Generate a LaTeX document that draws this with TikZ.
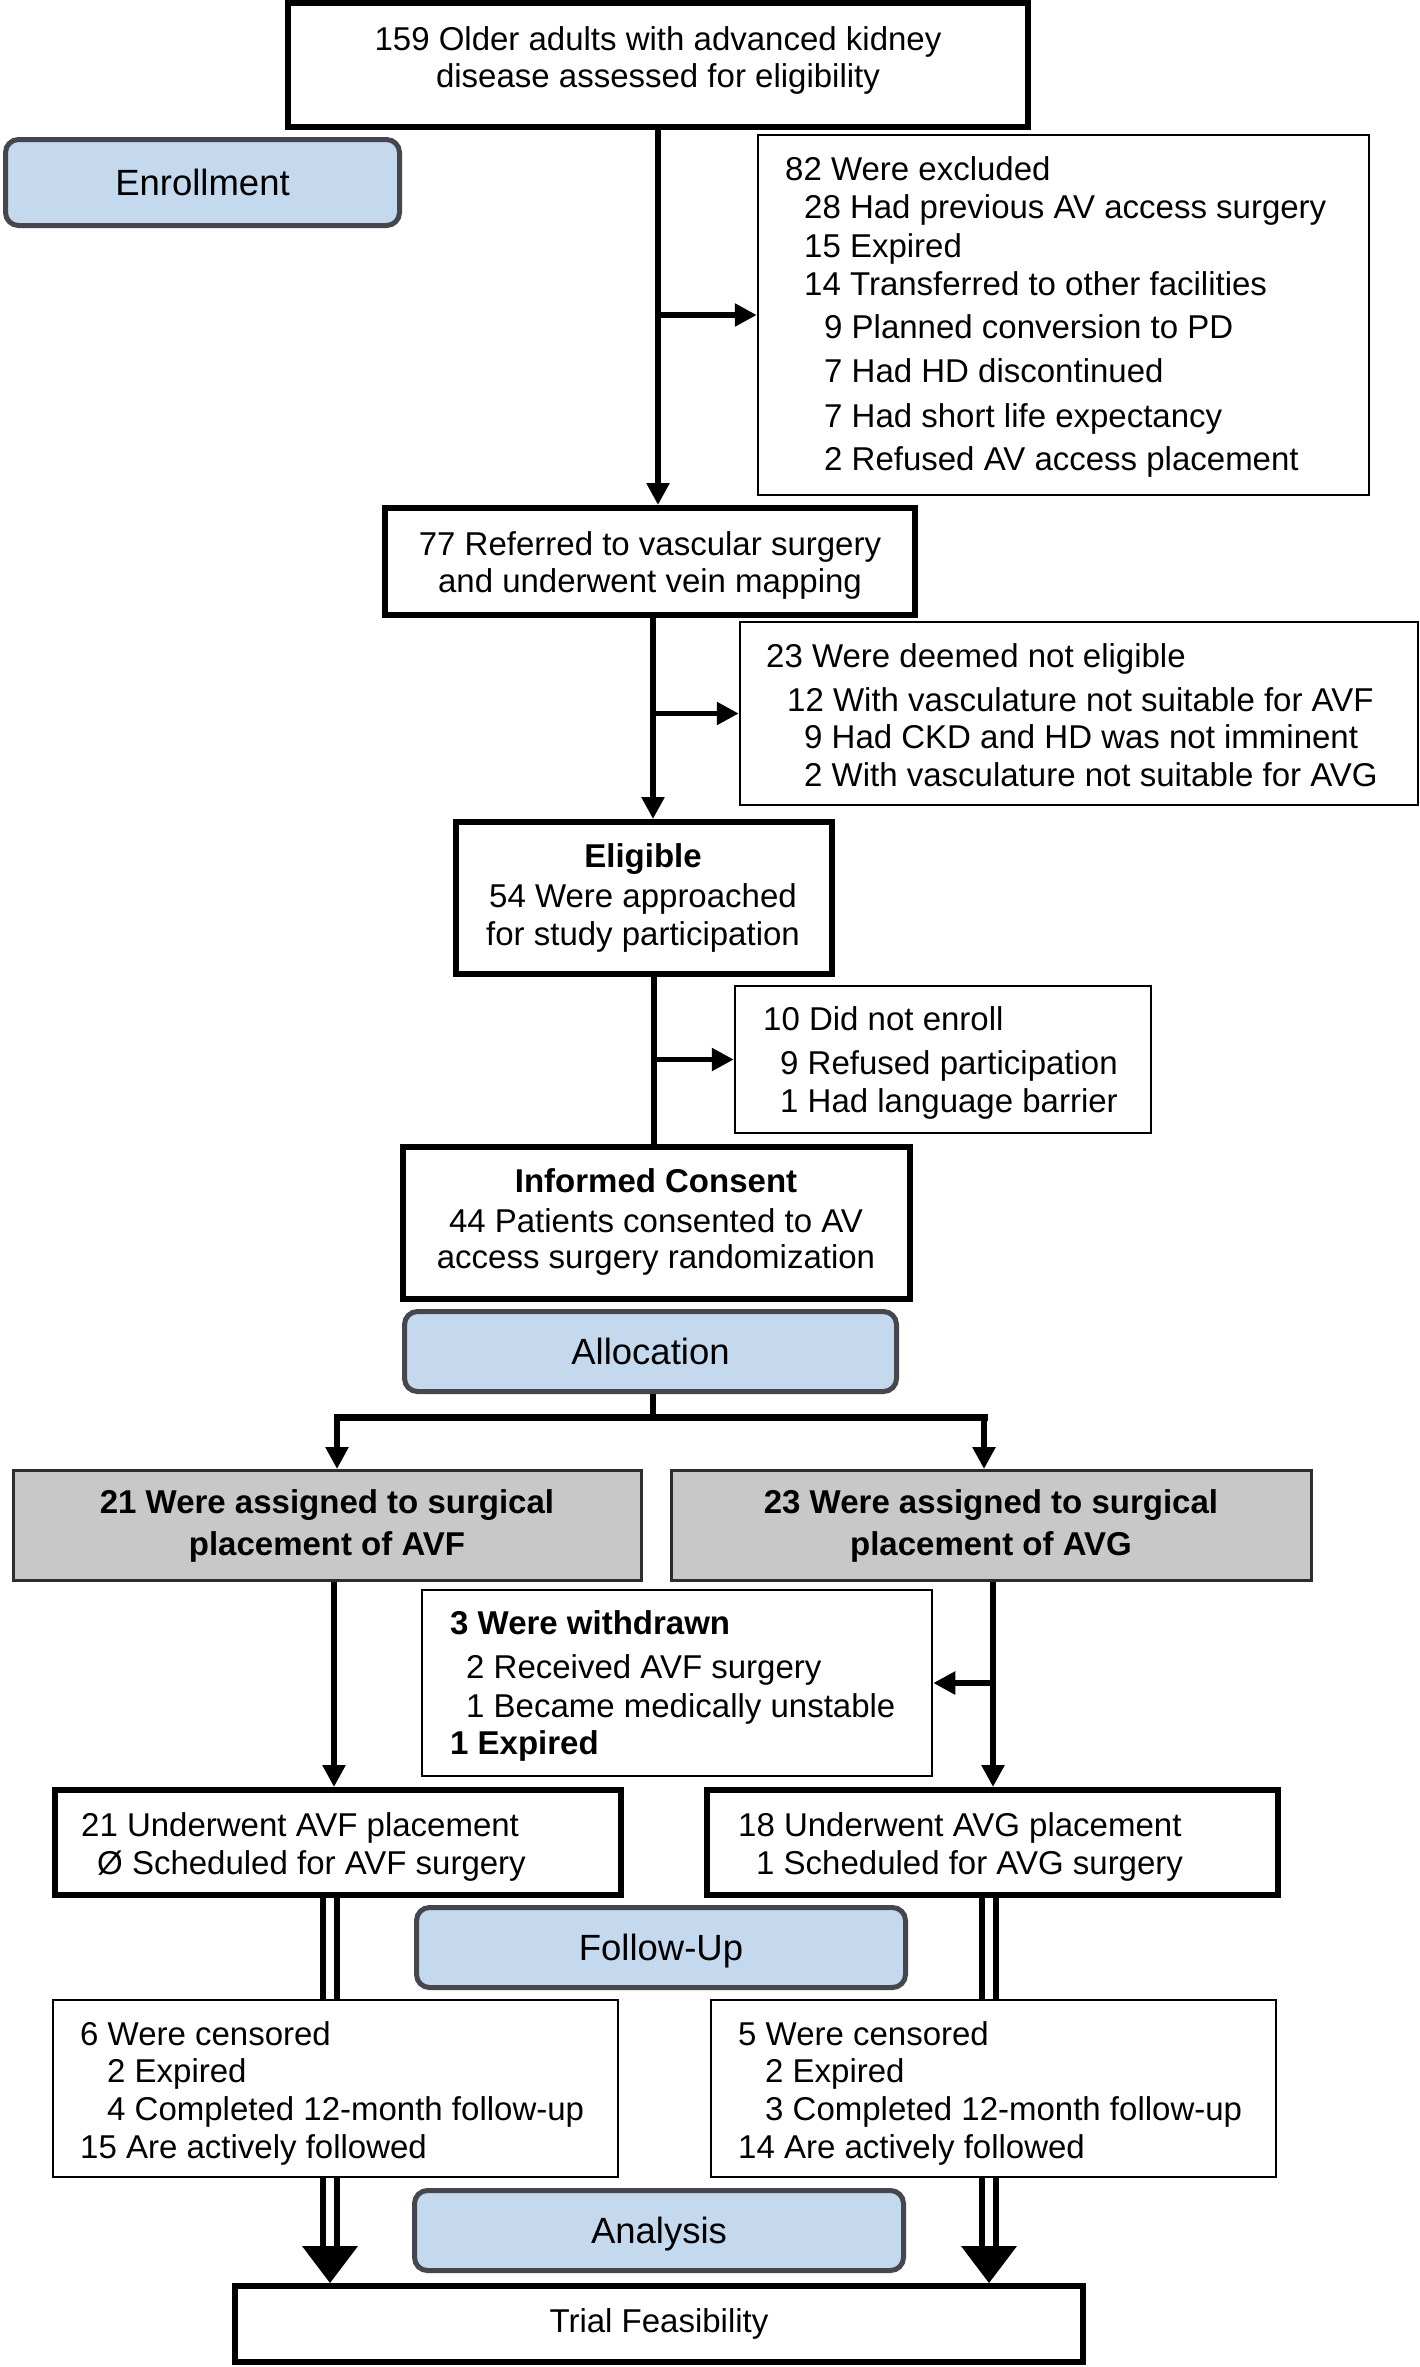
\documentclass[tikz,border=0pt]{standalone}
\usepackage{fontspec}
\setmainfont{Liberation Sans}
\usetikzlibrary{arrows.meta}
\definecolor{stageblue}{RGB}{196,217,237}
\definecolor{stageedge}{RGB}{70,70,78}
\definecolor{assigngray}{RGB}{200,200,200}
\definecolor{assignedge}{RGB}{45,45,45}
\newcommand{\fsA}{\fontsize{33pt}{40pt}\selectfont}
\newcommand{\fsB}{\fontsize{36.5pt}{44pt}\selectfont}
\begin{document}
\begin{tikzpicture}[x=1pt,y=-1pt,
  thickbox/.style={draw=black, line width=6pt, fill=white, inner sep=0pt},
  thinbox/.style={draw=black, line width=2.5pt, fill=white, inner sep=0pt},
  stagebox/.style={draw=stageedge, line width=5pt, fill=stageblue, rounded corners=13pt,
     inner sep=0pt, font=\fsB, text height=26pt, text depth=0pt},
  assignbox/.style={draw=assignedge, line width=3pt, fill=assigngray, inner sep=0pt},
  txt/.style={inner sep=0pt, font=\fsA},
  conn/.style={line width=5.5pt, draw=black},
  arrowtip/.style={-{Triangle[width=22pt,length=22pt]}},
  dbl/.style={line width=6pt, draw=black, double=white, double distance=8pt},
]
\useasboundingbox (0,0) rectangle (1420,2367);
\fill[white] (0,0) rectangle (1420,2367);

% ---------- boxes ----------
\node[thickbox, minimum width=740pt, minimum height=124pt] (top) at (658,65) {};
\node[stagebox, minimum width=394pt, minimum height=86pt] (enroll) at (202.5,182.5) {Enrollment};
\node[thinbox, minimum width=611pt, minimum height=360pt] (excl) at (1063.5,315) {};
\node[thickbox, minimum width=530pt, minimum height=107pt] (refer) at (650,561.5) {};
\node[thinbox, minimum width=678pt, minimum height=183pt] (notel) at (1079,713.5) {};
\node[thickbox, minimum width=376pt, minimum height=152pt] (elig) at (644,898) {};
\node[thinbox, minimum width=416pt, minimum height=147pt] (dne) at (943,1059.5) {};
\node[thickbox, minimum width=507pt, minimum height=152pt] (inf) at (656.5,1223) {};
\node[stagebox, minimum width=492pt, minimum height=80pt] (alloc) at (650.5,1351.5) {Allocation};
\node[assignbox, minimum width=628pt, minimum height=110pt] (avf) at (327.5,1525.5) {};
\node[assignbox, minimum width=640pt, minimum height=110pt] (avg) at (991.5,1525.5) {};
\node[thinbox, minimum width=510pt, minimum height=186pt] (wd) at (677,1683) {};
\node[thickbox, minimum width=566pt, minimum height=105pt] (uL) at (338,1842.5) {};
\node[thickbox, minimum width=571pt, minimum height=105pt] (uR) at (992.5,1842.5) {};
\node[stagebox, minimum width=489pt, minimum height=80pt] (fu) at (661,1947.5) {Follow-Up};
\node[thinbox, minimum width=565pt, minimum height=177pt] (cL) at (335.5,2088.5) {};
\node[thinbox, minimum width=565pt, minimum height=177pt] (cR) at (993.5,2088.5) {};
\node[stagebox, minimum width=489pt, minimum height=80pt] (an) at (659,2230.5) {Analysis};
\node[thickbox, minimum width=848pt, minimum height=76pt, font=\fsA,
      text height=23pt, text depth=7pt] (trial) at (659,2324) {Trial Feasibility};

% ---------- texts ----------
\node[txt, anchor=base] (t1) at (658,50) {159 Older adults with advanced kidney};
\node[txt, anchor=base] (t2) at (658,87) {disease assessed for eligibility};

\node[txt, anchor=base west] (ex1) at (785,180) {82 Were excluded};
\node[txt, anchor=base west] (ex2) at (804,218) {28 Had previous AV access surgery};
\node[txt, anchor=base west] (ex3) at (804,257) {15 Expired};
\node[txt, anchor=base west] (ex4) at (804,295) {14 Transferred to other facilities};
\node[txt, anchor=base west] (ex5) at (824,338) {9 Planned conversion to PD};
\node[txt, anchor=base west] (ex6) at (824,382) {7 Had HD discontinued};
\node[txt, anchor=base west] (ex7) at (824,427) {7 Had short life expectancy};
\node[txt, anchor=base west] (ex8) at (824,470) {2 Refused AV access placement};

\node[txt, anchor=base] (r1) at (650,555) {77 Referred to vascular surgery};
\node[txt, anchor=base] (r2) at (650,592) {and underwent vein mapping};

\node[txt, anchor=base west] (ne1) at (766,667) {23 Were deemed not eligible};
\node[txt, anchor=base west] (ne2) at (787,711) {12 With vasculature not suitable for AVF};
\node[txt, anchor=base west] (ne3) at (804,748) {9 Had CKD and HD was not imminent};
\node[txt, anchor=base west] (ne4) at (804,786) {2 With vasculature not suitable for AVG};

\node[txt, anchor=base, font=\fsA\bfseries] (e1) at (643,867) {Eligible};
\node[txt, anchor=base] (e2) at (643,907) {54 Were approached};
\node[txt, anchor=base] (e3) at (643,945) {for study participation};

\node[txt, anchor=base west] (d1) at (763,1030) {10 Did not enroll};
\node[txt, anchor=base west] (d2) at (780,1074) {9 Refused participation};
\node[txt, anchor=base west] (d3) at (780,1112) {1 Had language barrier};

\node[txt, anchor=base, font=\fsA\bfseries] (i1) at (656,1192) {Informed Consent};
\node[txt, anchor=base] (i2) at (656,1232) {44 Patients consented to AV};
\node[txt, anchor=base] (i3) at (656,1268) {access surgery randomization};

\node[txt, anchor=base, font=\fsA\bfseries] (af1) at (327,1513) {21 Were assigned to surgical};
\node[txt, anchor=base, font=\fsA\bfseries] (af2) at (327,1555) {placement of AVF};
\node[txt, anchor=base, font=\fsA\bfseries] (ag1) at (991,1513) {23 Were assigned to surgical};
\node[txt, anchor=base, font=\fsA\bfseries] (ag2) at (991,1555) {placement of AVG};

\node[txt, anchor=base west, font=\fsA\bfseries] (w1) at (450,1634) {3 Were withdrawn};
\node[txt, anchor=base west] (w2) at (466,1678) {2 Received AVF surgery};
\node[txt, anchor=base west] (w3) at (466,1717) {1 Became medically unstable};
\node[txt, anchor=base west, font=\fsA\bfseries] (w4) at (450,1754) {1 Expired};

\node[txt, anchor=base west] (ul1) at (81,1836) {21 Underwent AVF placement};
\node[txt, anchor=base west] (ul2) at (97,1874) {Ø Scheduled for AVF surgery};
\node[txt, anchor=base west] (ur1) at (738,1836) {18 Underwent AVG placement};
\node[txt, anchor=base west] (ur2) at (756,1874) {1 Scheduled for AVG surgery};

\node[txt, anchor=base west] (cl1) at (80,2045) {6 Were censored};
\node[txt, anchor=base west] (cl2) at (107,2082) {2 Expired};
\node[txt, anchor=base west] (cl3) at (107,2120) {4 Completed 12-month follow-up};
\node[txt, anchor=base west] (cl4) at (80,2158) {15 Are actively followed};
\node[txt, anchor=base west] (cr1) at (738,2045) {5 Were censored};
\node[txt, anchor=base west] (cr2) at (765,2082) {2 Expired};
\node[txt, anchor=base west] (cr3) at (765,2120) {3 Completed 12-month follow-up};
\node[txt, anchor=base west] (cr4) at (738,2158) {14 Are actively followed};

% ---------- connectors ----------
\coordinate (v2) at (653,0);
\coordinate (v3) at (654,0);
\coordinate (tM) at (653,1417);
\coordinate (tL) at (337,1417);
\coordinate (tR) at (984,1417);
\coordinate (vL) at (334,0);
\coordinate (vR) at (993,0);
\coordinate (xL) at (330,0);
\coordinate (xR) at (989,0);

\draw[conn, arrowtip] (top.south) -- (top.south |- refer.north);
\draw[conn, arrowtip] (top.south |- excl.west) -- (excl.west);

\draw[conn, arrowtip] (refer.south -| v2) -- (elig.north -| v2);
\draw[conn, arrowtip] (v2 |- notel.west) -- (notel.west);

\draw[conn] (elig.south -| v3) -- (inf.north -| v3);
\draw[conn, arrowtip] (v3 |- dne.west) -- (dne.west);

\draw[conn] (alloc.south -| tM) -- (tM);
\draw[conn, line width=7pt, line cap=rect] (tL) -- (tR);
\draw[conn, arrowtip] (tL) -- (tL |- avf.north);
\draw[conn, arrowtip] (tR) -- (tR |- avg.north);

\draw[conn, arrowtip] (avf.south -| vL) -- (uL.north -| vL);
\draw[conn, arrowtip] (avg.south -| vR) -- (uR.north -| vR);
\draw[conn, arrowtip] (vR |- wd.east) -- (wd.east);

\draw[dbl] (uL.south -| xL) -- (cL.north -| xL);
\draw[dbl] (uR.south -| xR) -- (cR.north -| xR);

\draw[dbl, shorten >=36pt] (cL.south -| xL) -- (trial.north -| xL);
\draw[dbl, shorten >=36pt] (cR.south -| xR) -- (trial.north -| xR);
\fill[black] (trial.north -| xL) -- ++(-28,-37) -- ++(56,0) -- cycle;
\fill[black] (trial.north -| xR) -- ++(-28,-37) -- ++(56,0) -- cycle;
\end{tikzpicture}
\end{document}
